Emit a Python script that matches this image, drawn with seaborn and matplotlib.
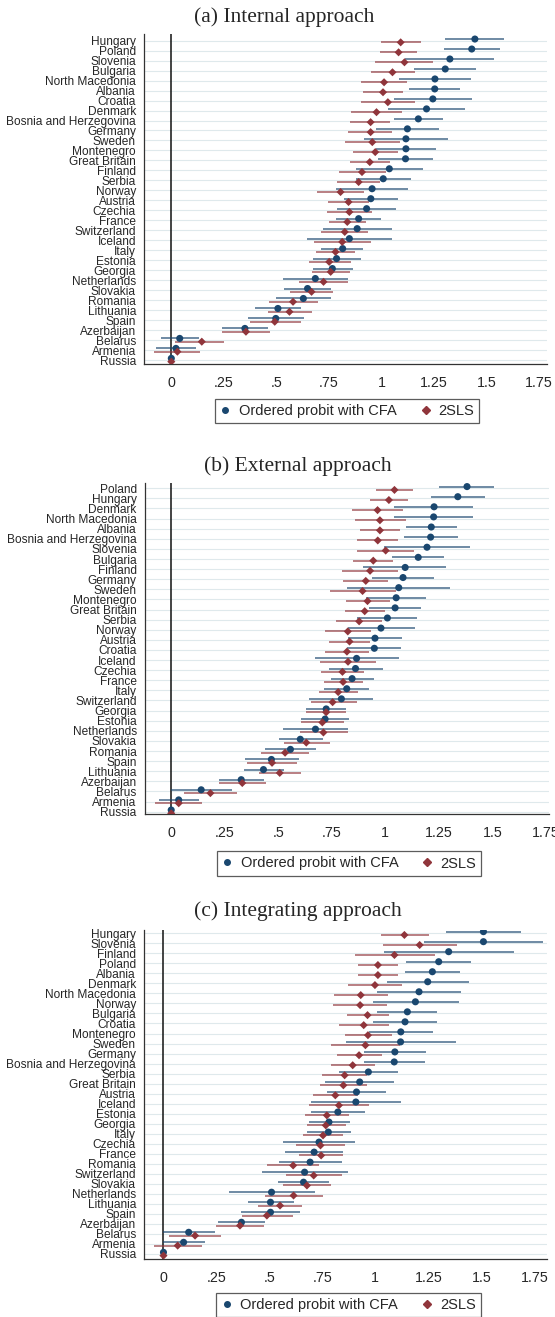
import numpy as np
import pandas as pd
import matplotlib
matplotlib.use("Agg")
import matplotlib.pyplot as plt
import seaborn as sns
from matplotlib.lines import Line2D

# === Datos ===
nan = np.nan
M1 = "Ordered probit with CFA"
M2 = "2SLS"

# (a) Internal approach
countries_a = ["Hungary", "Poland", "Slovenia", "Bulgaria", "North Macedonia", "Albania",
               "Croatia", "Denmark", "Bosnia and Herzegovina", "Germany", "Sweden",
               "Montenegro", "Great Britain", "Finland", "Serbia", "Norway", "Austria",
               "Czechia", "France", "Switzerland", "Iceland", "Italy", "Estonia", "Georgia",
               "Netherlands", "Slovakia", "Romania", "Lithuania", "Spain", "Azerbaijan",
               "Belarus", "Armenia", "Russia"]
probit_a = [1.444, 1.429, 1.325, 1.303, 1.254, 1.253, 1.244, 1.214, 1.175, 1.123, 1.116,
            1.116, 1.114, 1.037, 1.008, 0.955, 0.949, 0.929, 0.891, 0.884, 0.847, 0.815,
            0.786, 0.766, 0.685, 0.648, 0.628, 0.507, 0.497, 0.350, 0.040, 0.022, 0.0]
probit_a_lo = [1.303, 1.295, 1.113, 1.155, 1.082, 1.131, 1.059, 1.032, 1.059, 0.973, 0.917,
               0.973, 0.981, 0.877, 0.877, 0.785, 0.823, 0.790, 0.785, 0.721, 0.645, 0.714,
               0.673, 0.673, 0.532, 0.537, 0.500, 0.397, 0.364, 0.241, -0.049, -0.072, nan]
probit_a_hi = [1.584, 1.564, 1.537, 1.451, 1.426, 1.374, 1.428, 1.397, 1.293, 1.273, 1.315,
               1.259, 1.247, 1.199, 1.138, 1.126, 1.076, 1.071, 0.998, 1.049, 1.049, 0.914,
               0.902, 0.864, 0.842, 0.761, 0.761, 0.616, 0.630, 0.460, 0.130, 0.116, nan]
tsls_a = [1.091, 1.081, 1.109, 1.052, 1.012, 1.007, 1.030, 0.976, 0.948, 0.948, 0.956,
          0.970, 0.944, 0.907, 0.891, 0.805, 0.843, 0.847, 0.837, 0.825, 0.813, 0.781,
          0.751, 0.758, 0.724, 0.667, 0.579, 0.562, 0.492, 0.355, 0.145, 0.029, 0.0]
tsls_a_lo = [0.998, 0.992, 0.971, 0.949, 0.901, 0.912, 0.901, 0.855, 0.852, 0.842, 0.827,
             0.864, 0.848, 0.796, 0.788, 0.692, 0.746, 0.742, 0.749, 0.714, 0.678, 0.689,
             0.653, 0.667, 0.608, 0.564, 0.463, 0.460, 0.372, 0.241, 0.017, -0.082, nan]
tsls_a_hi = [1.189, 1.168, 1.246, 1.157, 1.121, 1.103, 1.160, 1.098, 1.042, 1.052, 1.088,
             1.076, 1.042, 1.022, 0.992, 0.916, 0.941, 0.956, 0.924, 0.936, 0.948, 0.874,
             0.854, 0.852, 0.842, 0.771, 0.697, 0.667, 0.616, 0.470, 0.249, 0.138, nan]

# (b) External approach
countries_b = ["Poland", "Hungary", "Denmark", "North Macedonia", "Albania",
               "Bosnia and Herzegovina", "Slovenia", "Bulgaria", "Finland", "Germany",
               "Sweden", "Montenegro", "Great Britain", "Serbia", "Norway", "Austria",
               "Croatia", "Iceland", "Czechia", "France", "Italy", "Switzerland", "Georgia",
               "Estonia", "Netherlands", "Slovakia", "Romania", "Spain", "Lithuania",
               "Azerbaijan", "Belarus", "Armenia", "Russia"]
probit_b = [1.382, 1.339, 1.228, 1.226, 1.215, 1.212, 1.195, 1.154, 1.093, 1.083, 1.063,
            1.051, 1.046, 1.010, 0.980, 0.952, 0.949, 0.866, 0.861, 0.845, 0.820, 0.795,
            0.724, 0.719, 0.674, 0.603, 0.557, 0.468, 0.431, 0.327, 0.140, 0.035, 0.0]
probit_b_lo = [1.250, 1.213, 1.043, 1.043, 1.098, 1.086, 0.993, 1.031, 0.898, 0.936, 0.820,
               0.912, 0.924, 0.866, 0.828, 0.828, 0.823, 0.671, 0.736, 0.745, 0.716, 0.646,
               0.631, 0.608, 0.522, 0.502, 0.440, 0.344, 0.340, 0.223, 0.000, -0.058, nan]
probit_b_hi = [1.509, 1.466, 1.412, 1.410, 1.336, 1.339, 1.398, 1.274, 1.286, 1.230, 1.302,
               1.192, 1.167, 1.150, 1.137, 1.078, 1.074, 1.063, 0.990, 0.947, 0.924, 0.944,
               0.818, 0.831, 0.828, 0.707, 0.678, 0.597, 0.529, 0.435, 0.286, 0.129, nan]
tsls_b = [1.043, 1.017, 0.964, 0.975, 0.975, 0.965, 1.002, 0.944, 0.929, 0.909, 0.894,
          0.917, 0.904, 0.878, 0.825, 0.833, 0.821, 0.826, 0.800, 0.803, 0.780, 0.754,
          0.724, 0.706, 0.711, 0.631, 0.532, 0.471, 0.507, 0.332, 0.183, 0.035, 0.0]
tsls_b_lo = [0.955, 0.927, 0.845, 0.857, 0.884, 0.869, 0.869, 0.850, 0.797, 0.803, 0.740,
             0.815, 0.810, 0.770, 0.717, 0.736, 0.719, 0.696, 0.698, 0.714, 0.691, 0.651,
             0.630, 0.607, 0.602, 0.526, 0.420, 0.352, 0.410, 0.225, 0.058, -0.076, nan]
tsls_b_hi = [1.131, 1.104, 1.084, 1.096, 1.068, 1.061, 1.134, 1.038, 1.061, 1.013, 1.048,
             1.020, 1.000, 0.987, 0.932, 0.931, 0.922, 0.957, 0.899, 0.894, 0.873, 0.866,
             0.818, 0.805, 0.825, 0.740, 0.646, 0.588, 0.608, 0.443, 0.309, 0.145, nan]

# (c) Integrating approach
countries_c = ["Hungary", "Slovenia", "Finland", "Poland", "Albania", "Denmark",
               "North Macedonia", "Norway", "Bulgaria", "Croatia", "Montenegro", "Sweden",
               "Germany", "Bosnia and Herzegovina", "Serbia", "Great Britain", "Austria",
               "Iceland", "Estonia", "Georgia", "Italy", "Czechia", "France", "Romania",
               "Switzerland", "Slovakia", "Netherlands", "Lithuania", "Spain", "Azerbaijan",
               "Belarus", "Armenia", "Russia"]
probit_c = [1.510, 1.510, 1.346, 1.299, 1.269, 1.247, 1.206, 1.189, 1.151, 1.140, 1.120,
            1.119, 1.092, 1.089, 0.967, 0.926, 0.911, 0.908, 0.823, 0.781, 0.778, 0.734,
            0.711, 0.692, 0.666, 0.661, 0.510, 0.505, 0.505, 0.368, 0.119, 0.095, 0.0]
probit_c_lo = [1.331, 1.229, 1.040, 1.145, 1.140, 1.054, 1.010, 0.987, 1.010, 0.987, 0.972,
               0.863, 0.945, 0.946, 0.828, 0.764, 0.774, 0.696, 0.696, 0.686, 0.676, 0.565,
               0.574, 0.545, 0.465, 0.540, 0.309, 0.398, 0.368, 0.259, -0.003, -0.002, nan]
probit_c_hi = [1.689, 1.789, 1.652, 1.452, 1.398, 1.441, 1.403, 1.395, 1.289, 1.293, 1.273,
               1.380, 1.241, 1.234, 1.107, 1.087, 1.050, 1.120, 0.950, 0.880, 0.883, 0.903,
               0.849, 0.843, 0.870, 0.783, 0.716, 0.615, 0.642, 0.477, 0.241, 0.194, nan]
tsls_c = [1.137, 1.209, 1.090, 1.012, 1.012, 0.998, 0.931, 0.928, 0.963, 0.945, 0.965,
          0.953, 0.923, 0.893, 0.855, 0.849, 0.811, 0.828, 0.771, 0.766, 0.753, 0.741,
          0.744, 0.612, 0.709, 0.677, 0.614, 0.550, 0.488, 0.361, 0.149, 0.067, 0.0]
tsls_c_lo = [1.025, 1.037, 0.903, 0.916, 0.920, 0.871, 0.803, 0.799, 0.865, 0.829, 0.856,
             0.791, 0.821, 0.791, 0.749, 0.739, 0.707, 0.686, 0.669, 0.676, 0.659, 0.624,
             0.640, 0.490, 0.577, 0.565, 0.478, 0.445, 0.370, 0.247, 0.027, -0.047, nan]
tsls_c_hi = [1.251, 1.383, 1.281, 1.107, 1.107, 1.125, 1.060, 1.057, 1.062, 1.062, 1.077,
             1.115, 1.030, 1.000, 0.962, 0.962, 0.916, 0.972, 0.875, 0.860, 0.849, 0.858,
             0.849, 0.732, 0.844, 0.791, 0.753, 0.654, 0.609, 0.475, 0.273, 0.181, nan]

x_ticks = [0, 0.25, 0.5, 0.75, 1, 1.25, 1.5, 1.75]
x_ticklabels = ["0", ".25", ".5", ".75", "1", "1.25", "1.5", "1.75"]

# === Estilo ===
NAVY = "#1a476f"
MAROON = "#90353b"
GRID = "#dfe9ec"
PALETTE = {M1: NAVY, M2: MAROON}
OFFSET = {M1: -0.165, M2: 0.165}

sns.set_style("white")
plt.rcParams["font.family"] = ["Liberation Sans", "DejaVu Sans"]

W, H = 555, 1317


def make_df(countries, e1, lo1, hi1, e2, lo2, hi2):
    rows = np.arange(len(countries))
    d1 = pd.DataFrame({"country": countries, "row": rows, "est": e1, "lo": lo1, "hi": hi1, "model": M1})
    d2 = pd.DataFrame({"country": countries, "row": rows, "est": e2, "lo": lo2, "hi": hi2, "model": M2})
    df = pd.concat([d1, d2], ignore_index=True)
    df["y"] = df["row"] + df["model"].map(OFFSET)
    return df


def draw_panel(fig, df, countries, title, title_xy, box, xlim, ylim, legend_xy):
    left, top, right, bottom = box
    ax = fig.add_axes([left / W, 1 - bottom / H, (right - left) / W, (bottom - top) / H])
    n = len(countries)

    # líneas de grilla y línea vertical en cero
    for r in range(n):
        ax.axhline(r, color=GRID, lw=0.8, zorder=0)
    ax.axvline(0, color="#111111", lw=1.1, zorder=1)

    # intervalos de confianza
    for m in [M1, M2]:
        sub = df[df["model"] == m].dropna(subset=["lo", "hi"])
        ax.hlines(sub["y"], sub["lo"], sub["hi"], color=PALETTE[m], lw=1.1, alpha=0.8, zorder=2)

    sns.scatterplot(
        data=df, x="est", y="y", hue="model", style="model", size="model",
        palette=PALETTE, markers={M1: "o", M2: "D"}, sizes={M1: 26, M2: 17},
        linewidth=0, ax=ax, legend=False, zorder=3,
    )

    ax.set_xlim(*xlim)
    ax.set_ylim(*ylim)
    ax.set_yticks(range(n))
    ax.set_yticklabels(countries, fontsize=8.6)
    ax.set_xticks(x_ticks)
    ax.set_xticklabels(x_ticklabels, fontsize=10.3)
    ax.set_xlabel("")
    ax.set_ylabel("")
    ax.tick_params(axis="y", length=4.3, width=0.8, pad=1.8, color="#333333")
    ax.tick_params(axis="x", length=4.3, width=0.8, pad=4.5, color="#333333")
    for s in ["top", "right"]:
        ax.spines[s].set_visible(False)
    for s in ["left", "bottom"]:
        ax.spines[s].set_color("#333333")
        ax.spines[s].set_linewidth(0.9)

    fig.text(title_xy[0] / W, 1 - title_xy[1] / H, title, ha="center", va="baseline",
             fontsize=15.5, family=["Liberation Serif", "DejaVu Serif"])

    handles = [
        Line2D([], [], marker="o", color=NAVY, ls="none", markersize=4),
        Line2D([], [], marker="D", color=MAROON, ls="none", markersize=3.6),
    ]
    leg = fig.legend(handles, [M1, M2], loc="center",
                     bbox_to_anchor=(legend_xy[0] / W, 1 - legend_xy[1] / H),
                     ncol=2, frameon=True, fancybox=False, fontsize=10.5,
                     handlelength=0.8, handletextpad=0.5, columnspacing=1.6,
                     borderpad=0.35)
    leg.get_frame().set_edgecolor("#333333")
    leg.get_frame().set_linewidth(0.9)
    return ax


fig = plt.figure(figsize=(W / 100, H / 100), dpi=100)

df_a = make_df(countries_a, probit_a, probit_a_lo, probit_a_hi, tsls_a, tsls_a_lo, tsls_a_hi)
df_b = make_df(countries_b, probit_b, probit_b_lo, probit_b_hi, tsls_b, tsls_b_lo, tsls_b_hi)
df_c = make_df(countries_c, probit_c, probit_c_lo, probit_c_hi, tsls_c, tsls_c_lo, tsls_c_hi)

draw_panel(fig, df_a, countries_a, "(a) Internal approach", (284, 22),
           (144.4, 34, 547, 364), (-0.128, 1.787), (32.4, -0.67), (347, 411))
draw_panel(fig, df_b, countries_b, "(b) External approach", (297.5, 471),
           (145.1, 483, 549, 814), (-0.122, 1.765), (32.23, -0.52), (349, 863.5))
draw_panel(fig, df_c, countries_c, "(c) Integrating approach", (297.5, 916),
           (144.4, 930, 547, 1259), (-0.09, 1.81), (32.5, -0.33), (348.5, 1305))

fig.savefig("out.png", dpi=100)
plt.close(fig)
